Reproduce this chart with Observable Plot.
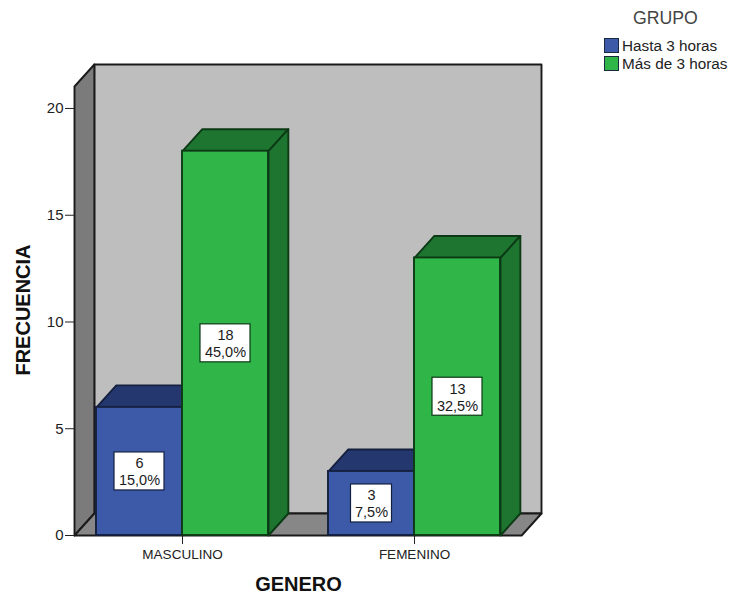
<!DOCTYPE html>
<html>
<head>
<meta charset="utf-8">
<script src="https://cdn.jsdelivr.net/npm/d3@7"></script>
<script src="https://cdn.jsdelivr.net/npm/@observablehq/plot@0.6"></script>
<style>
  html, body { margin: 0; background: #fff; }
  #chart { position: relative; width: 731px; height: 597px; font-family: "Liberation Sans", Arial, sans-serif; overflow: hidden; }
  #legend { position: absolute; left: 604px; top: 0; color: #222; }
  #legend .title { position: absolute; left: 29px; top: 8px; font-size: 17.7px; color: #444; white-space: nowrap; }
  #legend .row { position: absolute; left: 0; display: flex; align-items: center; font-size: 15.3px; line-height: 15px; white-space: nowrap; }
  #legend .swatch { width: 13px; height: 13px; border: 1px solid #1c2a40; margin-right: 3px; display: inline-block; }
</style>
</head>
<body>
<div id="chart">
  <div id="legend"></div>
</div>
<script>
// Survey counts by gender and study-time group
const generos = ["MASCULINO", "FEMENINO"];
const grupos = ["Hasta 3 horas", "Más de 3 horas"];
const hastaTres = [6, 3];
const masDeTres = [18, 13];
const hastaTresPct = ["15,0%", "7,5%"];
const masDeTresPct = ["45,0%", "32,5%"];

const yTicks = [0, 5, 10, 15, 20];

// Box geometry in scale units: genders sit at x = 1, 2
const barWidth = 0.3707;
const depthX = 0.0855;
const depthY = 1.03;
const xMin = 0.5345;
const xMax = 2.5474;
const floorRight = xMax - depthX;
const yMax = 22.06;
const yFrontTop = yMax - depthY;

const palette = [
  {front: "#3c5aa8", top: "#25376f", side: "#25376f", line: "#14203f"},
  {front: "#2fb548", top: "#1d7530", side: "#1d7530", line: "#0d3a16"}
];
const outline = "#1a1a1a";

// Closed polygon helper for the faces of the 3-D frame and the bars
function face(id, fill, stroke, pts) {
  return [...pts, pts[0]].map(([x, y]) => ({id, fill, stroke, x, y}));
}
function polygons(rows) {
  return Plot.line(rows, {
    x: "x", y: "y", z: "id",
    fill: d => d.fill, stroke: d => d.stroke,
    strokeWidth: 1.9, strokeLinejoin: "round", curve: "linear"
  });
}

const frame = [
  ...face("wall", "#bebebe", outline, [[xMin + depthX, depthY], [xMax, depthY], [xMax, yMax], [xMin + depthX, yMax]]),
  ...face("left", "#7b7b7b", outline, [[xMin, 0], [xMin, yFrontTop], [xMin + depthX, yMax], [xMin + depthX, depthY]]),
  ...face("floor", "#878787", outline, [[xMin, 0], [floorRight, 0], [xMax, depthY], [xMin + depthX, depthY]])
];

// One record per bar, in drawing order: each group's blue bar, then its green one
const bars = [hastaTres, masDeTres].flatMap((counts, s) =>
  counts.map((value, g) => ({
    value,
    series: s,
    x1: g + 1 + (s === 0 ? -barWidth : 0),
    x2: g + 1 + (s === 0 ? 0 : barWidth),
    pct: (s === 0 ? hastaTresPct : masDeTresPct)[g]
  }))
);

function barMarks(b) {
  const c = palette[b.series];
  const {x1, x2, value: v} = b;
  const shape = [
    ...face(`top${b.series}${x1}`, c.top, c.line, [[x1, v], [x2, v], [x2 + depthX, v + depthY], [x1 + depthX, v + depthY]]),
    ...face(`side${b.series}${x1}`, c.side, c.line, [[x2, 0], [x2, v], [x2 + depthX, v + depthY], [x2 + depthX, depthY]])
  ];
  return [
    polygons(shape),
    Plot.rect([b], {x1: "x1", x2: "x2", y1: 0, y2: "value", fill: c.front, stroke: c.line, strokeWidth: 1.9})
  ];
}

// Value labels: white box centred on the bar's front face
const labelRows = bars.map(b => {
  const cx = (b.x1 + b.x2) / 2;
  const half = (b.pct.length * 9 + 5) / 2 / 232;
  return {...b, cx, cy: b.value / 2, bx1: cx - half, bx2: cx + half, by1: b.value / 2 - 0.89, by2: b.value / 2 + 0.89,
          text: `${b.value}\n${b.pct}`};
});

const chart = Plot.plot({
  width: 731,
  height: 597,
  marginLeft: 74,
  marginRight: 190,
  marginTop: 64,
  marginBottom: 62,
  style: {fontFamily: "'Liberation Sans', Arial, sans-serif", background: "transparent", color: "#222", overflow: "visible"},
  x: {type: "linear", domain: [xMin, xMax]},
  y: {domain: [0, yMax]},
  marks: [
    polygons(frame),
    ...bars.flatMap(barMarks),
    Plot.rect(labelRows, {x1: "bx1", x2: "bx2", y1: "by1", y2: "by2", fill: "white",
      stroke: d => palette[d.series].line, strokeWidth: 1.2}),
    Plot.text(labelRows, {x: "cx", y: "cy", text: "text", fontSize: 14.5, lineHeight: 1.16, fill: "#1a1a1a"}),
    Plot.axisY({ticks: yTicks, tickSize: 9, tickPadding: 2, fontSize: 15, label: null, stroke: "#222"}),
    Plot.axisX({ticks: [1, 2], tickFormat: i => generos[i - 1], tickSize: 9, tickPadding: 5, fontSize: 13.5, label: null, stroke: "#222"}),
    Plot.text(["GENERO"], {x: () => 1.5, frameAnchor: "bottom", dy: 55, fontSize: 20, fontWeight: "bold", fill: "#111"}),
    Plot.text(["FRECUENCIA"], {frameAnchor: "left", textAnchor: "middle", dx: -51, dy: 10, rotate: -90, fontSize: 20, fontWeight: "bold", fill: "#111"})
  ]
});
document.getElementById("chart").prepend(chart);

// Legend in the top right corner
const legend = document.getElementById("legend");
const title = document.createElement("div");
title.className = "title";
title.textContent = "GRUPO";
legend.append(title);
grupos.forEach((name, i) => {
  const row = document.createElement("div");
  row.className = "row";
  row.style.top = `${38 + i * 18}px`;
  const swatch = document.createElement("span");
  swatch.className = "swatch";
  swatch.style.background = palette[i].front;
  row.append(swatch, document.createTextNode(name));
  legend.append(row);
});
</script>
</body>
</html>
